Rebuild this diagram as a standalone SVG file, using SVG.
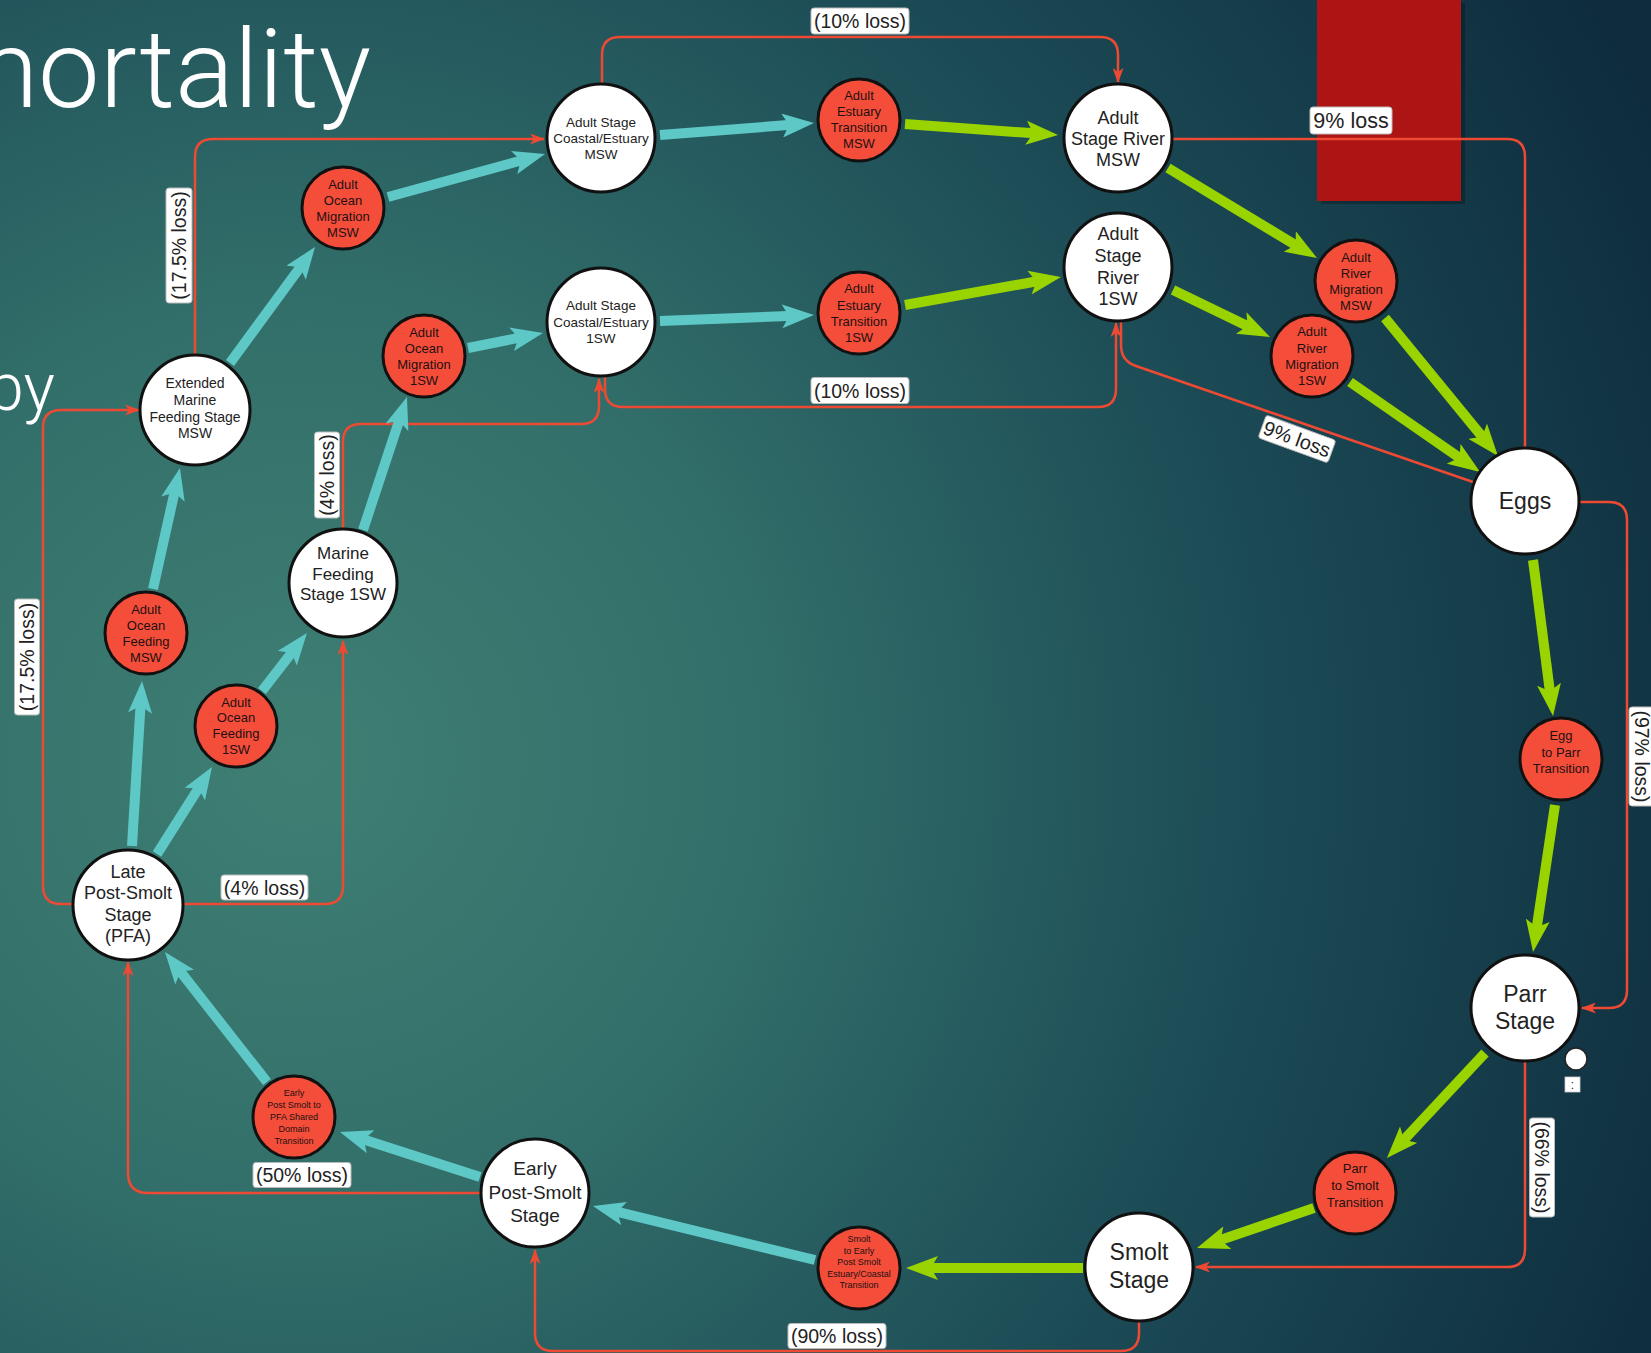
<svg xmlns="http://www.w3.org/2000/svg" width="1651" height="1353" viewBox="0 0 1651 1353">
<defs>
<radialGradient id="bg" gradientUnits="userSpaceOnUse" cx="300" cy="760" r="1500">
<stop offset="0" stop-color="#3f7f73"/>
<stop offset="0.3" stop-color="#326f6a"/>
<stop offset="0.65" stop-color="#1b4a55"/>
<stop offset="1" stop-color="#0e2c3d"/>
</radialGradient>
<marker id="hc" markerUnits="userSpaceOnUse" markerWidth="32" markerHeight="24" viewBox="0 0 32 24" refX="12" refY="12" orient="auto"><path d="M0,0 L32,12 L0,24 L7,12 z" fill="#5ec8c6"/></marker>
<marker id="hg" markerUnits="userSpaceOnUse" markerWidth="32" markerHeight="24" viewBox="0 0 32 24" refX="12" refY="12" orient="auto"><path d="M0,0 L32,12 L0,24 L7,12 z" fill="#9ad400"/></marker>
<marker id="hr" markerUnits="userSpaceOnUse" markerWidth="15" markerHeight="11" viewBox="0 0 15 11" refX="14" refY="5.5" orient="auto"><path d="M0,0 L15,5.5 L0,11 L4,5.5 z" fill="#ee4a33"/></marker>
<style>
.red{fill:none;stroke:#ee4a33;stroke-width:2.5}
.redA{fill:none;stroke:#ee4a33;stroke-width:2.5;marker-end:url(#hr)}
.cy{stroke:#5ec8c6;stroke-width:10;fill:none;marker-end:url(#hc)}
.gr{stroke:#9ad400;stroke-width:10;fill:none;marker-end:url(#hg)}
.wn ellipse{fill:#fff;stroke:#111;stroke-width:3}
.rn ellipse{fill:#f44e3b;stroke:#111;stroke-width:3}
.wn text,.rn text,.lb text{font-family:"Liberation Sans",Arial,sans-serif;fill:#222;text-anchor:middle}
.rn text{font-size:13px;fill:#1e1010}
.lb rect{fill:#fff;stroke:#bbb;stroke-width:1}
.lb text{font-size:19.5px}
.t13{font-size:13.5px}
.t14{font-size:14px}
.t17{font-size:17px}
.t18{font-size:18px}
.t19{font-size:19px}
.t23{font-size:23px}
.rn text.t9{font-size:9px}
</style>
</defs>
<rect x="0" y="0" width="1651" height="1353" fill="url(#bg)"/>
<text x="371" y="107" text-anchor="end" style="font-family:Roboto,'DejaVu Sans',sans-serif;font-weight:300;font-size:110px;fill:#ffffff">mortality</text>
<text x="55" y="410" text-anchor="end" style="font-family:Roboto,'DejaVu Sans',sans-serif;font-weight:300;font-size:66px;fill:#ffffff">by</text>
<rect x="1321" y="3" width="144" height="201" fill="#000" opacity="0.25"/>
<rect x="1317" y="0" width="144" height="201" fill="#ad1414"/>

<g id="connectors">
<path class="redA" d="M602,84 V55 Q602,37 620,37 H1100 Q1118,37 1118,55 V82"/>
<path class="redA" d="M195,356 V157 Q195,139 213,139 H544"/>
<path class="redA" d="M73,904 H61 Q43,904 43,886 V428 Q43,410 61,410 H139"/>
<path class="redA" d="M183,904 H325 Q343,904 343,886 V641"/>
<path class="redA" d="M343,529 V442 Q343,424 361,424 H581 Q599,424 599,406 V379"/>
<path class="redA" d="M605,376 V389 Q605,407 623,407 H1098 Q1116,407 1116,389 V323"/>
<path class="red" d="M1121,321 V345 Q1121,361 1136,366 L1473,482"/>
<path class="red" d="M1172,139 H1507 Q1525,139 1525,157 V448"/>
<path class="redA" d="M1579,502 H1609 Q1627,502 1627,520 V990 Q1627,1008 1609,1008 H1582"/>
<path class="redA" d="M1525,1061 V1249 Q1525,1267 1507,1267 H1196"/>
<path class="redA" d="M1139,1321 V1333 Q1139,1351 1121,1351 H553 Q535,1351 535,1333 V1250"/>
<path class="redA" d="M481,1193 H148 Q128,1193 128,1173 V962"/>

<line class="cy" x1="132" y1="846" x2="140.8" y2="701"/>
<line class="cy" x1="157" y1="854" x2="201.3" y2="783.9"/>
<line class="cy" x1="153" y1="589" x2="175.6" y2="487.5"/>
<line class="cy" x1="262" y1="691" x2="294.7" y2="648.8"/>
<line class="cy" x1="363" y1="530" x2="400.7" y2="416"/>
<line class="cy" x1="230" y1="363" x2="303.2" y2="263.1"/>
<line class="cy" x1="388" y1="197" x2="525.7" y2="159.3"/>
<line class="cy" x1="468" y1="348" x2="523.4" y2="336.9"/>
<line class="cy" x1="660" y1="135" x2="794.1" y2="124.6"/>
<line class="cy" x1="660" y1="321" x2="794" y2="315.8"/>
<line class="cy" x1="815" y1="1260" x2="612.4" y2="1210.7"/>
<line class="cy" x1="480" y1="1177" x2="359" y2="1138.1"/>
<line class="cy" x1="267" y1="1082" x2="177.3" y2="967.7"/>
<line class="gr" x1="905" y1="124" x2="1038.1" y2="133.6"/>
<line class="gr" x1="905" y1="305" x2="1041.3" y2="280.5"/>
<line class="gr" x1="1168" y1="168" x2="1299.9" y2="247.7"/>
<line class="gr" x1="1173" y1="290" x2="1252" y2="328.3"/>
<line class="gr" x1="1385" y1="318" x2="1485.3" y2="440.5"/>
<line class="gr" x1="1350" y1="382" x2="1463.6" y2="460.6"/>
<line class="gr" x1="1533" y1="560" x2="1550.5" y2="696.2"/>
<line class="gr" x1="1555" y1="805" x2="1536" y2="932.2"/>
<line class="gr" x1="1485" y1="1053" x2="1400.6" y2="1143.4"/>
<line class="gr" x1="1314" y1="1208" x2="1215.9" y2="1241.5"/>
<line class="gr" x1="1083" y1="1268" x2="926" y2="1268"/>

<g class="lb" transform="translate(860,21)"><rect x="-49" y="-13" width="98" height="26" rx="3"/><text y="7">(10% loss)</text></g>
<g class="lb" transform="translate(860,390.5)"><rect x="-49" y="-13" width="98" height="26" rx="3"/><text y="7">(10% loss)</text></g>
<g class="lb" transform="translate(179,245.5) rotate(-90)"><rect x="-57.5" y="-13" width="115" height="26" rx="3"/><text y="7">(17.5% loss)</text></g>
<g class="lb" transform="translate(27,657) rotate(-90)"><rect x="-58" y="-12.5" width="116" height="25" rx="3"/><text y="7">(17.5% loss)</text></g>
<g class="lb" transform="translate(327,475) rotate(-90)"><rect x="-43" y="-12.5" width="86" height="25" rx="3"/><text y="7">(4% loss)</text></g>
<g class="lb" transform="translate(264.5,887.5)"><rect x="-43.5" y="-12.5" width="87" height="25" rx="3"/><text y="7">(4% loss)</text></g>
<g class="lb" transform="translate(302,1175)"><rect x="-49" y="-12.5" width="98" height="25" rx="3"/><text y="7">(50% loss)</text></g>
<g class="lb" transform="translate(837,1336)"><rect x="-49" y="-12.5" width="98" height="25" rx="3"/><text y="7">(90% loss)</text></g>
<g class="lb" transform="translate(1642,756.5) rotate(90)"><rect x="-49.5" y="-13" width="99" height="26" rx="3"/><text y="7">(97% loss)</text></g>
<g class="lb" transform="translate(1542,1167.5) rotate(90)"><rect x="-49.5" y="-12.5" width="99" height="25" rx="3"/><text y="7">(66% loss)</text></g>
<g class="lb" transform="translate(1351,120.5)"><rect x="-41" y="-13.5" width="82" height="27" rx="3"/><text y="7.5" style="font-size:21.5px">9% loss</text></g>
<g class="lb" transform="translate(1297,439) rotate(20)"><rect x="-37" y="-12" width="74" height="24" rx="3"/><text y="7" style="font-size:20px">9% loss</text></g>
</g>

<g id="node-coastal-msw" class="wn"><ellipse cx="601" cy="138" rx="54" ry="54"/><text class="t13"><tspan x="601" y="127">Adult Stage</tspan><tspan x="601" y="143">Coastal/Estuary</tspan><tspan x="601" y="159">MSW</tspan></text></g>
<g id="node-coastal-1sw" class="wn"><ellipse cx="601" cy="322" rx="54" ry="54"/><text class="t13"><tspan x="601" y="310">Adult Stage</tspan><tspan x="601" y="327">Coastal/Estuary</tspan><tspan x="601" y="343">1SW</tspan></text></g>
<g id="node-river-msw" class="wn"><ellipse cx="1118" cy="138" rx="54" ry="54"/><text class="t18"><tspan x="1118" y="123.5">Adult</tspan><tspan x="1118" y="144.5">Stage River</tspan><tspan x="1118" y="166">MSW</tspan></text></g>
<g id="node-river-1sw" class="wn"><ellipse cx="1118" cy="267" rx="54" ry="54"/><text class="t18"><tspan x="1118" y="239.5">Adult</tspan><tspan x="1118" y="262">Stage</tspan><tspan x="1118" y="283.5">River</tspan><tspan x="1118" y="304.5">1SW</tspan></text></g>
<g id="node-eggs" class="wn"><ellipse cx="1525" cy="501" rx="54" ry="53"/><text class="t23" x="1525" y="509">Eggs</text></g>
<g id="node-parr" class="wn"><ellipse cx="1525" cy="1008" rx="54" ry="53"/><text class="t23"><tspan x="1525" y="1002">Parr</tspan><tspan x="1525" y="1029">Stage</tspan></text></g>
<g id="node-smolt" class="wn"><ellipse cx="1139" cy="1267" rx="54" ry="54"/><text class="t23"><tspan x="1139" y="1260">Smolt</tspan><tspan x="1139" y="1288">Stage</tspan></text></g>
<g id="node-early-post-smolt" class="wn"><ellipse cx="535" cy="1193" rx="54" ry="54"/><text class="t19"><tspan x="535" y="1175">Early</tspan><tspan x="535" y="1199">Post-Smolt</tspan><tspan x="535" y="1222">Stage</tspan></text></g>
<g id="node-late-post-smolt" class="wn"><ellipse cx="128" cy="905" rx="55" ry="55"/><text class="t18"><tspan x="128" y="877.5">Late</tspan><tspan x="128" y="899">Post-Smolt</tspan><tspan x="128" y="920.5">Stage</tspan><tspan x="128" y="941.5">(PFA)</tspan></text></g>
<g id="node-extended-marine" class="wn"><ellipse cx="195" cy="410" rx="55" ry="55"/><text class="t14"><tspan x="195" y="388">Extended</tspan><tspan x="195" y="405">Marine</tspan><tspan x="195" y="422">Feeding Stage</tspan><tspan x="195" y="438">MSW</tspan></text></g>
<g id="node-marine-feeding-1sw" class="wn"><ellipse cx="343" cy="583" rx="54" ry="54"/><text class="t17"><tspan x="343" y="559">Marine</tspan><tspan x="343" y="580">Feeding</tspan><tspan x="343" y="600">Stage 1SW</tspan></text></g>

<g id="node-aet-msw" class="rn"><ellipse cx="859" cy="120" rx="41" ry="41"/><text><tspan x="859" y="99.5">Adult</tspan><tspan x="859" y="115.5">Estuary</tspan><tspan x="859" y="131.5">Transition</tspan><tspan x="859" y="147.5">MSW</tspan></text></g>
<g id="node-aet-1sw" class="rn"><ellipse cx="859" cy="313" rx="41" ry="41"/><text><tspan x="859" y="292.5">Adult</tspan><tspan x="859" y="309.5">Estuary</tspan><tspan x="859" y="326">Transition</tspan><tspan x="859" y="342">1SW</tspan></text></g>
<g id="node-aom-msw" class="rn"><ellipse cx="343" cy="208" rx="41" ry="41"/><text><tspan x="343" y="188.5">Adult</tspan><tspan x="343" y="204.5">Ocean</tspan><tspan x="343" y="221">Migration</tspan><tspan x="343" y="236.5">MSW</tspan></text></g>
<g id="node-aom-1sw" class="rn"><ellipse cx="424" cy="356" rx="41" ry="41"/><text><tspan x="424" y="336.5">Adult</tspan><tspan x="424" y="352.5">Ocean</tspan><tspan x="424" y="368.5">Migration</tspan><tspan x="424" y="384.5">1SW</tspan></text></g>
<g id="node-aof-msw" class="rn"><ellipse cx="146" cy="633" rx="41" ry="41"/><text><tspan x="146" y="614">Adult</tspan><tspan x="146" y="629.5">Ocean</tspan><tspan x="146" y="645.5">Feeding</tspan><tspan x="146" y="661.5">MSW</tspan></text></g>
<g id="node-aof-1sw" class="rn"><ellipse cx="236" cy="726" rx="41" ry="41"/><text><tspan x="236" y="706.5">Adult</tspan><tspan x="236" y="722">Ocean</tspan><tspan x="236" y="737.5">Feeding</tspan><tspan x="236" y="754">1SW</tspan></text></g>
<g id="node-arm-msw" class="rn"><ellipse cx="1356" cy="281" rx="41" ry="41"/><text><tspan x="1356" y="261.5">Adult</tspan><tspan x="1356" y="278">River</tspan><tspan x="1356" y="293.5">Migration</tspan><tspan x="1356" y="309.5">MSW</tspan></text></g>
<g id="node-arm-1sw" class="rn"><ellipse cx="1312" cy="356" rx="41" ry="41"/><text><tspan x="1312" y="336">Adult</tspan><tspan x="1312" y="352.5">River</tspan><tspan x="1312" y="368.5">Migration</tspan><tspan x="1312" y="385">1SW</tspan></text></g>
<g id="node-egg-to-parr" class="rn"><ellipse cx="1561" cy="759" rx="41" ry="41"/><text><tspan x="1561" y="739.5">Egg</tspan><tspan x="1561" y="756.5">to Parr</tspan><tspan x="1561" y="772.5">Transition</tspan></text></g>
<g id="node-parr-to-smolt" class="rn"><ellipse cx="1355" cy="1193" rx="41" ry="41"/><text><tspan x="1355" y="1172.5">Parr</tspan><tspan x="1355" y="1189.5">to Smolt</tspan><tspan x="1355" y="1206.5">Transition</tspan></text></g>
<g id="node-smolt-to-early" class="rn"><ellipse cx="859" cy="1268" rx="41" ry="41"/><text class="t9"><tspan x="859" y="1242">Smolt</tspan><tspan x="859" y="1253.5">to Early</tspan><tspan x="859" y="1265">Post Smolt</tspan><tspan x="859" y="1276.5">Estuary/Coastal</tspan><tspan x="859" y="1288">Transition</tspan></text></g>
<g id="node-early-to-pfa" class="rn"><ellipse cx="294" cy="1117" rx="41" ry="41"/><text class="t9"><tspan x="294" y="1096">Early</tspan><tspan x="294" y="1108">Post Smolt to</tspan><tspan x="294" y="1120">PFA Shared</tspan><tspan x="294" y="1132">Domain</tspan><tspan x="294" y="1144">Transition</tspan></text></g>

<g id="node-small">
<circle cx="1576" cy="1059" r="11" fill="#fff" stroke="#222" stroke-width="1.5"/>
<rect x="1565" y="1077" width="15" height="15" fill="#fff" stroke="#ccc" stroke-width="0.8"/>
<text x="1572.5" y="1089" style="font-family:'Liberation Sans',Arial,sans-serif;font-size:12px;fill:#222;text-anchor:middle">:</text>
</g>
</svg>
